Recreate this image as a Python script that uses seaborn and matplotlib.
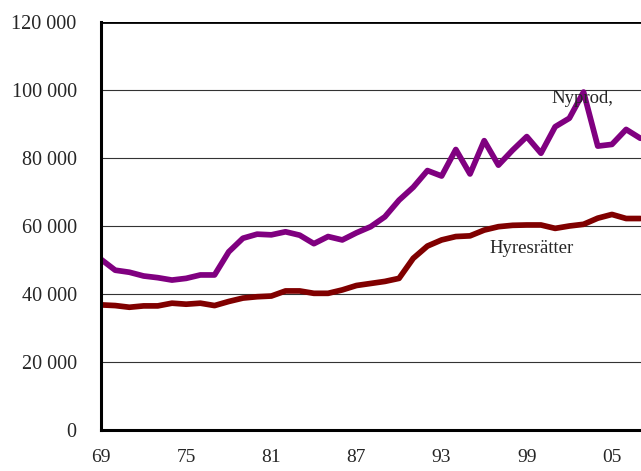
import matplotlib
matplotlib.use("Agg")
import matplotlib.pyplot as plt
import matplotlib.ticker as mticker
import seaborn as sns
import pandas as pd

years = list(range(1969, 2008))

# Nyproduktion, totalt
nyprod = [50200, 47000, 46400, 45300, 44800, 44100, 44600, 45600, 45600, 52400,
          56400, 57600, 57400, 58300, 57300, 54800, 56900, 55900, 58000, 59800,
          62700, 67600, 71400, 76300, 74700, 82500, 75300, 85100, 77900, 82300,
          86300, 81400, 89200, 91700, 99400, 83500, 84000, 88400, 85800]

# Hyresrätter
hyres = [36800, 36600, 36100, 36500, 36500, 37300, 37000, 37300, 36600, 37800,
         38800, 39200, 39400, 40900, 40900, 40200, 40200, 41200, 42500, 43100,
         43700, 44600, 50500, 54100, 55900, 56900, 57100, 58800, 59800, 60200,
         60300, 60300, 59300, 60000, 60500, 62300, 63400, 62200, 62200]

label_years = [1969, 1975, 1981, 1987, 1993, 1999, 2005]

df = pd.DataFrame({"year": years, "Nyprod,": nyprod, "Hyresrätter": hyres})
long = df.melt(id_vars="year", var_name="serie", value_name="antal")

sns.set_style("white")
plt.rcParams["font.family"] = ["Liberation Serif", "DejaVu Serif"]

fig = plt.figure(figsize=(6.41, 4.71), dpi=100)
ax = fig.add_axes([101 / 641, 41 / 471, 545 / 641, 408 / 471])

sns.lineplot(data=long, x="year", y="antal", hue="serie",
             palette={"Nyprod,": "#800080", "Hyresrätter": "#800000"},
             linewidth=4.1, legend=False, ax=ax)

ax.set_xlim(1969, 2007.4)
ax.set_ylim(0, 120000)
ax.yaxis.set_major_locator(mticker.MultipleLocator(20000))
ax.yaxis.set_major_formatter(mticker.FuncFormatter(
    lambda v, p: f"{int(v):,}".replace(",", " ")))
ax.xaxis.set_major_locator(mticker.FixedLocator(label_years))
ax.xaxis.set_minor_locator(mticker.MultipleLocator(1))
ax.xaxis.set_major_formatter(mticker.FuncFormatter(lambda v, p: f"{int(v) % 100:02d}"))

ax.grid(axis="y", color="#333333", linewidth=0.8)
ax.set_axisbelow(True)
# top two gridlines are drawn heavier in the original
for tick in ax.yaxis.get_major_ticks():
    if tick.get_loc() >= 100000:
        tick.gridline.set_color("black")
        tick.gridline.set_linewidth(2.0)

for s in ["top", "right"]:
    ax.spines[s].set_visible(False)
for s in ["left", "bottom"]:
    ax.spines[s].set_color("black")
    ax.spines[s].set_linewidth(2.2)

ax.tick_params(axis="y", which="major", direction="out", length=4.5, width=1.2,
               color="black", pad=13, labelsize=14.5)
ax.tick_params(axis="x", which="both", direction="out", length=3.5, width=2,
               color="black", pad=10, labelsize=14)
ax.set_xlabel("")
ax.set_ylabel("")

ax.text(2002.9, 97500, "Nyprod,", ha="center", va="center", fontsize=13.5)
ax.text(1999.35, 53500, "Hyresrätter", ha="center", va="center", fontsize=13.5)

fig.savefig("out.png", dpi=100)
